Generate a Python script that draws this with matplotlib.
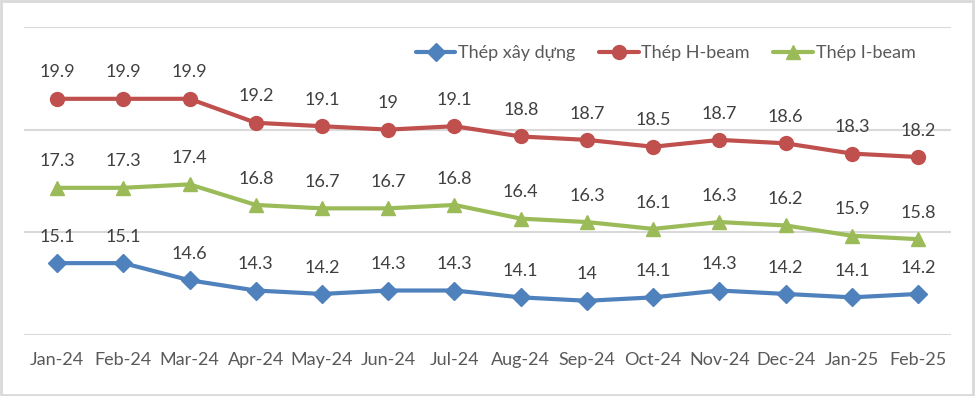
import matplotlib.pyplot as plt
from matplotlib.patches import Rectangle

# Dữ liệu
thang = ["Jan-24", "Feb-24", "Mar-24", "Apr-24", "May-24", "Jun-24", "Jul-24",
         "Aug-24", "Sep-24", "Oct-24", "Nov-24", "Dec-24", "Jan-25", "Feb-25"]
xay_dung = [15.1, 15.1, 14.6, 14.3, 14.2, 14.3, 14.3, 14.1, 14.0, 14.1, 14.3, 14.2, 14.1, 14.2]
h_beam = [19.9, 19.9, 19.9, 19.2, 19.1, 19.0, 19.1, 18.8, 18.7, 18.5, 18.7, 18.6, 18.3, 18.2]
i_beam = [17.3, 17.3, 17.4, 16.8, 16.7, 16.7, 16.8, 16.4, 16.3, 16.1, 16.3, 16.2, 15.9, 15.8]

plt.rcParams['font.family'] = ['Lato', 'DejaVu Sans']

fig = plt.figure(figsize=(9.75, 3.96), dpi=100)
ax = fig.add_axes([0.0246, 0.154, 0.951, 0.778])

x = list(range(len(thang)))
series = [
    (xay_dung, "Thép xây dựng", "#4F81BD", "D", 9),
    (h_beam, "Thép H-beam", "#C0504D", "o", 10),
    (i_beam, "Thép I-beam", "#9BBB59", "^", 10),
]
for vals, ten, mau, mk, ms in series:
    ax.plot(x, vals, color=mau, lw=3, marker=mk, markersize=ms, label=ten,
            solid_capstyle='round')
    for xi, v in zip(x, vals):
        ax.annotate("%g" % v, (xi, v), xytext=(0, 19), textcoords='offset points',
                    ha='center', va='center', fontsize=13, color='#404040')

ax.set_xlim(-0.5, len(thang) - 0.5)
ax.set_ylim(13, 22)
ax.set_yticks([13, 16, 19, 22])
ax.yaxis.grid(True, color='#D9D9D9', lw=1.5)
ax.set_axisbelow(True)
ax.tick_params(axis='y', left=False, labelleft=False)
ax.set_xticks(x)
ax.set_xticklabels(thang, fontsize=13, color='#595959')
ax.tick_params(axis='x', length=0, pad=12)
for s in ax.spines.values():
    s.set_visible(False)

ax.legend(loc='center', bbox_to_anchor=(0.692, 0.915), ncol=3, frameon=False,
          fontsize=13, handlelength=2.2, columnspacing=1.3, handletextpad=0.15,
          labelcolor='#595959')

fig.patches.append(Rectangle((0.001, 0.002), 0.997, 0.995, transform=fig.transFigure,
                             fill=False, edgecolor='#D9D9D9', lw=2))

fig.savefig("out.png", dpi=100)
